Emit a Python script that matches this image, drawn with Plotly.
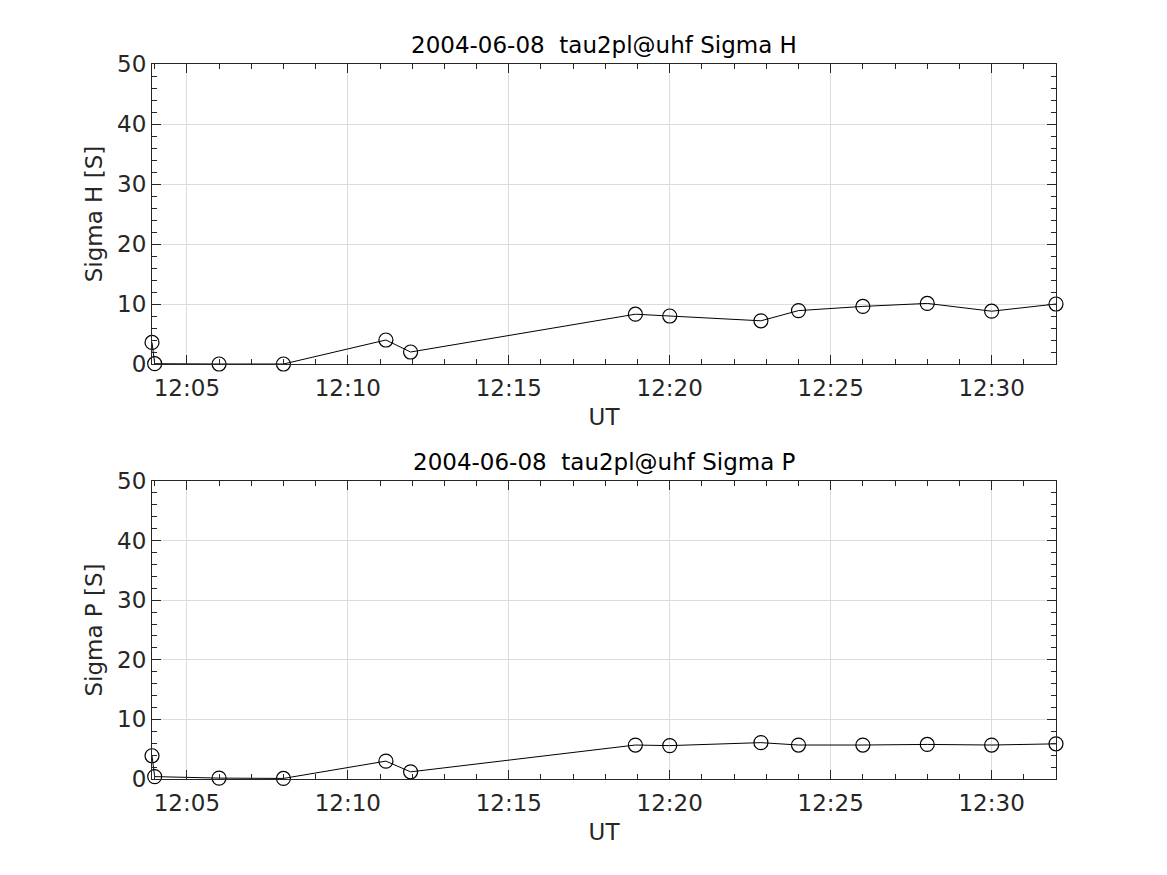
import plotly.graph_objects as go

day = "2004-06-08 "
times = ["12:03:55", "12:04:00", "12:06:00", "12:08:00", "12:11:11", "12:11:57",
         "12:18:56", "12:20:00", "12:22:50", "12:24:00", "12:26:00", "12:28:00",
         "12:30:00", "12:32:00"]
sigma_h = [3.6, 0.05, 0.0, 0.0, 4.0, 2.0, 8.3, 8.0, 7.2, 8.9, 9.6, 10.1, 8.8, 10.0]
sigma_p = [3.9, 0.4, 0.15, 0.1, 3.0, 1.2, 5.7, 5.6, 6.1, 5.7, 5.7, 5.8, 5.7, 5.9]
titles = ["2004-06-08\u00a0 tau2pl@uhf Sigma H", "2004-06-08\u00a0 tau2pl@uhf Sigma P"]
ylabels = ["Sigma H [S]", "Sigma P [S]"]
xlabel = "UT"

x = [day + t for t in times]

fig = go.Figure()
font = "DejaVu Sans, Liberation Sans, sans-serif"
tickcol = "#262626"
fs = 23

domains = [[0.5804, 1.0], [0.0, 0.4168]]
for i, vals in enumerate([sigma_h, sigma_p]):
    xa = "x" if i == 0 else "x2"
    ya = "y" if i == 0 else "y2"
    fig.add_trace(go.Scatter(
        x=x, y=vals, xaxis=xa, yaxis=ya, mode="lines+markers",
        line=dict(color="black", width=1),
        marker=dict(symbol="circle-open", size=14, color="black", line=dict(width=1.2)),
        showlegend=False, cliponaxis=False))

common_x = dict(
    type="date", range=[x[0], x[-1]],
    tickformat="%H:%M", dtick=300000, tick0=day + "12:00:00",
    showgrid=True, gridcolor="#dcdcdc", gridwidth=1,
    showline=True, linecolor="#262626", linewidth=1, mirror="allticks",
    ticks="inside", ticklen=9, tickcolor="#262626", tickwidth=1,
    minor=dict(dtick=60000, tick0=day + "12:00:00", ticks="inside", ticklen=5,
               tickcolor="#262626", showgrid=False),
    tickfont=dict(family=font, size=fs, color=tickcol),
    ticklabelstandoff=3,
    title=dict(text=xlabel, font=dict(family=font, size=fs, color=tickcol), standoff=9),
    zeroline=False,
)
common_y = dict(
    range=[0, 50], dtick=10, tick0=0,
    showgrid=True, gridcolor="#dcdcdc", gridwidth=1,
    showline=True, linecolor="#262626", linewidth=1, mirror="allticks",
    ticks="inside", ticklen=9, tickcolor="#262626", tickwidth=1,
    minor=dict(dtick=2, ticks="inside", ticklen=5, tickcolor="#262626", showgrid=False),
    tickfont=dict(family=font, size=fs, color=tickcol),
    zeroline=False,
)

fig.update_layout(
    width=1167, height=875,
    margin=dict(l=144, r=119, t=56, b=104),
    plot_bgcolor="white", paper_bgcolor="white",
    xaxis=dict(common_x, domain=[0, 1], anchor="y"),
    yaxis=dict(common_y, domain=domains[0], anchor="x",
               title=dict(text=ylabels[0], font=dict(family=font, size=fs, color=tickcol), standoff=8)),
    xaxis2=dict(common_x, domain=[0, 1], anchor="y2"),
    yaxis2=dict(common_y, domain=domains[1], anchor="x2",
                title=dict(text=ylabels[1], font=dict(family=font, size=fs, color=tickcol), standoff=8)),
)

for i, t in enumerate(titles):
    fig.add_annotation(
        text=t, xref="paper", yref="paper", x=0.5, y=domains[i][1],
        xanchor="center", yanchor="bottom", yshift=4, showarrow=False,
        font=dict(family=font, size=fs, color="black"))

fig.write_html("out.html")
